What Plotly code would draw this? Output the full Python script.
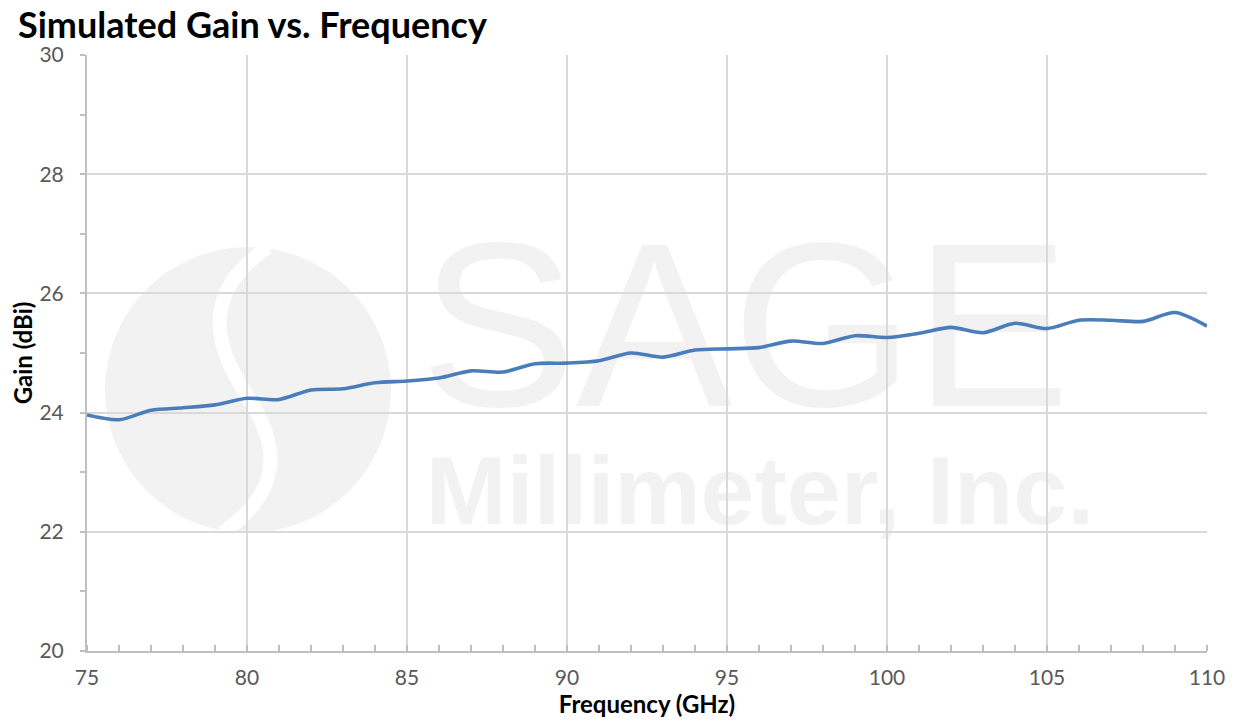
import plotly.graph_objects as go

freq_ghz = list(range(75, 111))
gain_dbi = [23.96, 23.88, 24.04, 24.08, 24.13, 24.24, 24.22, 24.38, 24.40, 24.50,
            24.53, 24.58, 24.70, 24.68, 24.82, 24.83, 24.87, 25.00, 24.93, 25.05,
            25.07, 25.09, 25.20, 25.16, 25.29, 25.26, 25.33, 25.43, 25.34, 25.50,
            25.41, 25.55, 25.55, 25.53, 25.68, 25.45]

x_ticks = [75, 80, 85, 90, 95, 100, 105, 110]
y_ticks = [20, 22, 24, 26, 28, 30]

W, H = 1236, 721
OFF = 8  # page body margin
L, R, T, B = 87, 1207, 55, 651  # target plot area in page pixels

def px(x):
    return (x - L) / (R - L)

def py(y):
    return (B - y) / (B - T)

FONT = "Lato"
WM = "#f2f2f2"

fig = go.Figure()
fig.add_trace(go.Scatter(
    x=freq_ghz, y=gain_dbi, mode="lines",
    line=dict(color="#4a7ebb", width=3.6, shape="spline", smoothing=0.8),
    hoverinfo="skip", showlegend=False))

shapes = []
shapes.append(dict(type="circle", xref="paper", yref="paper", layer="below",
                   x0=px(105), x1=px(391), y0=py(533), y1=py(247),
                   fillcolor=WM, line=dict(width=0)))
path = "M {},{} C {},{} {},{} {},{} S {},{} {},{}".format(
    px(268), py(247), px(190), py(300), px(225), py(360), px(245), py(392),
    px(300), py(480), px(222), py(533))
shapes.append(dict(type="path", xref="paper", yref="paper", layer="below",
                   path=path, line=dict(color="white", width=14)))
shapes.append(dict(type="rect", xref="paper", yref="paper", layer="below",
                   x0=px(420), x1=px(1070), y0=py(408), y1=py(198),
                   line=dict(width=0), fillcolor="rgba(0,0,0,0)",
                   label=dict(text="SAGE", font=dict(family="Liberation Sans", size=234, color=WM),
                              textposition="middle center")))
shapes.append(dict(type="rect", xref="paper", yref="paper", layer="below",
                   x0=px(410), x1=px(1110), y0=py(536), y1=py(426),
                   line=dict(width=0), fillcolor="rgba(0,0,0,0)",
                   label=dict(text="<b>Millimeter, Inc.</b>",
                              font=dict(family="Liberation Sans", size=97, color=WM),
                              textposition="middle center")))

fig.update_layout(
    width=W, height=H,
    margin=dict(l=L - OFF, r=W - (R - OFF), t=T - OFF, b=H - (B - OFF)),
    paper_bgcolor="white", plot_bgcolor="white",
    font=dict(family=FONT, color="#595959", size=21),
    shapes=shapes,
    title=dict(text="<b>Simulated Gain vs. Frequency</b>", x=(18 - OFF) / W, xanchor="left",
               xref="container", yref="container",
               y=1 - (25 - OFF) / H, yanchor="middle",
               font=dict(family=FONT, size=36, color="black")),
    xaxis=dict(range=[75, 110], tickvals=x_ticks, ticktext=[str(v) for v in x_ticks],
               showgrid=True, gridcolor="#d9d9d9", gridwidth=1.5,
               showline=True, linecolor="#bfbfbf", linewidth=2, automargin=False,
               ticks="", ticklabelstandoff=7, zeroline=False,
               minor=dict(dtick=1, tick0=75, ticks="inside", ticklen=6,
                          tickcolor="#bfbfbf", tickwidth=1.5, showgrid=False),
               title=dict(text="<b>Frequency (GHz)</b>", standoff=2,
                          font=dict(family=FONT, size=24, color="black"))),
    yaxis=dict(range=[20, 30], tickvals=y_ticks, ticktext=[str(v) for v in y_ticks],
               showgrid=True, gridcolor="#d9d9d9", gridwidth=1.5,
               showline=True, linecolor="#bfbfbf", linewidth=2, automargin=False,
               ticks="outside", ticklen=5, tickcolor="#bfbfbf", tickwidth=1.5,
               ticklabelstandoff=12, zeroline=False,
               minor=dict(dtick=1, tick0=20, ticks="outside", ticklen=5,
                          tickcolor="#bfbfbf", tickwidth=1.5, showgrid=False),
               title=dict(text="<b>Gain (dBi)</b>", standoff=10,
                          font=dict(family=FONT, size=24, color="black"))),
)

fig.write_html("out.html")
